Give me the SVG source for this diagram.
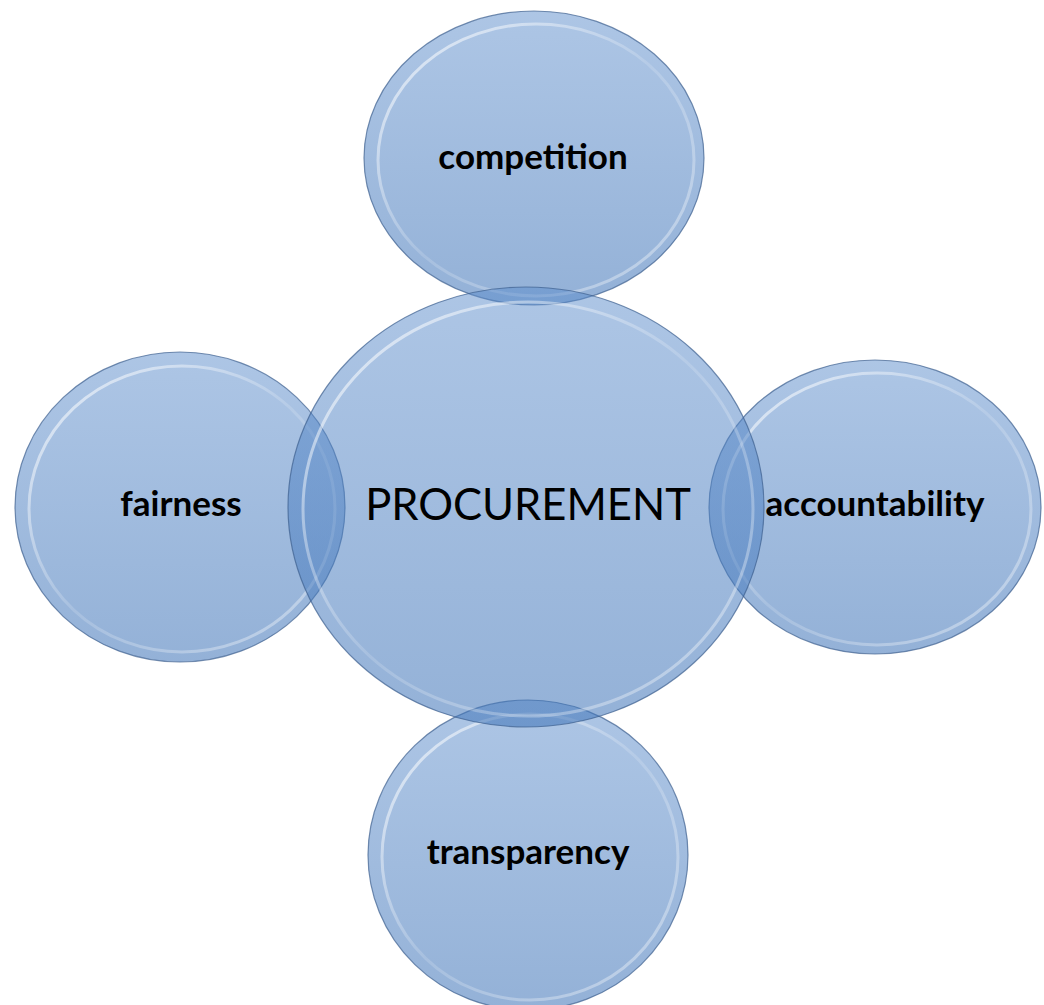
<svg xmlns="http://www.w3.org/2000/svg" width="1044" height="1005" viewBox="0 0 1044 1005">
<defs>
<linearGradient id="fillg" x1="0" y1="0" x2="0" y2="1">
<stop offset="0" stop-color="#5b8ccb" stop-opacity="0.5"/>
<stop offset="1" stop-color="#3f74b8" stop-opacity="0.56"/>
</linearGradient>
<linearGradient id="rimg" x1="0" y1="0" x2="1" y2="1">
<stop offset="0" stop-color="#ffffff" stop-opacity="0.7"/>
<stop offset="0.5" stop-color="#ffffff" stop-opacity="0.15"/>
<stop offset="1" stop-color="#ffffff" stop-opacity="0.45"/>
</linearGradient>
</defs>
<style>
.shape{fill:url(#fillg);stroke:#3d5f8e;stroke-opacity:0.7;stroke-width:1.2}
.rim{fill:none;stroke:url(#rimg);stroke-width:3}
.lbl{font-family:Lato,"Open Sans","Liberation Sans",sans-serif;font-weight:bold;font-size:35px;fill:#000;text-anchor:middle}
.main{font-family:Lato,"Open Sans","Liberation Sans",sans-serif;font-size:43.5px;fill:#000;text-anchor:middle}
</style>
<rect width="1044" height="1005" fill="#ffffff"/>
<g id="connectors"></g>
<g id="node-competition">
<ellipse class="shape" cx="534" cy="158" rx="170" ry="147"/>
<ellipse class="rim" cx="536" cy="160" rx="158" ry="136"/>
</g>
<g id="node-fairness">
<ellipse class="shape" cx="180" cy="507" rx="165" ry="155"/>
<ellipse class="rim" cx="182" cy="509" rx="153" ry="143"/>
</g>
<g id="node-accountability">
<ellipse class="shape" cx="875" cy="507" rx="166" ry="147"/>
<ellipse class="rim" cx="877" cy="509" rx="154" ry="136"/>
</g>
<g id="node-transparency">
<ellipse class="shape" cx="528" cy="855" rx="160" ry="155"/>
<ellipse class="rim" cx="530" cy="857" rx="148" ry="143"/>
</g>
<g id="node-procurement">
<ellipse class="shape" cx="526" cy="507" rx="238" ry="220"/>
<ellipse class="rim" cx="528" cy="509" rx="225" ry="207"/>
</g>
<g id="labels">
<text class="lbl" x="533" y="169">competition</text>
<text class="lbl" x="181" y="516">fairness</text>
<text class="lbl" x="875" y="516">accountability</text>
<text class="lbl" x="528" y="864">transparency</text>
<text class="main" x="528" y="520">PROCUREMENT</text>
</g>
</svg>
